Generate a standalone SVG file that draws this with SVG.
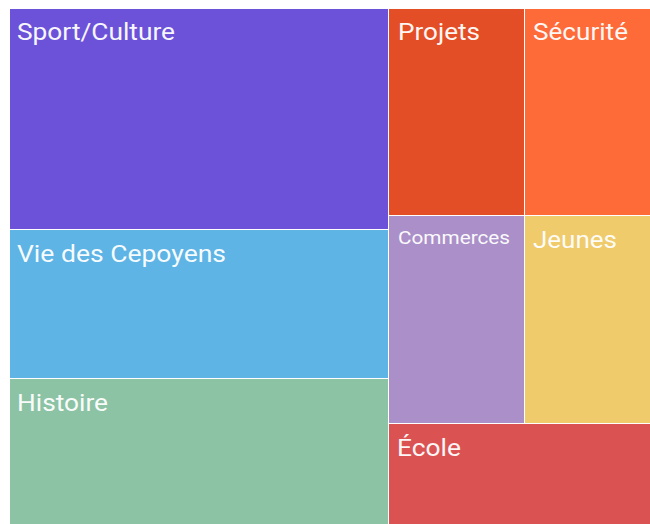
<svg xmlns="http://www.w3.org/2000/svg" width="650" height="524" viewBox="0 0 650 524">
<style>
text{font-family:Roboto,"Liberation Sans",sans-serif;fill:#ffffff;font-size:23px;opacity:0.95}
.s{font-size:18px}
</style>
<rect width="650" height="524" fill="#ffffff"/>
<g id="sport"><rect x="10" y="9" width="378" height="220" fill="#6b52d9"/><text x="17" y="40" textLength="158" lengthAdjust="spacingAndGlyphs">Sport/Culture</text></g>
<g id="vie"><rect x="10" y="230" width="378" height="148" fill="#5db4e5"/><text x="17" y="262" textLength="209" lengthAdjust="spacingAndGlyphs">Vie des Cepoyens</text></g>
<g id="histoire"><rect x="10" y="379" width="378" height="145" fill="#8cc3a5"/><text x="17" y="411" textLength="91" lengthAdjust="spacingAndGlyphs">Histoire</text></g>
<g id="projets"><rect x="389" y="9" width="135" height="206" fill="#e44e26"/><text x="398" y="40" textLength="82" lengthAdjust="spacingAndGlyphs">Projets</text></g>
<g id="securite"><rect x="525" y="9" width="125" height="206" fill="#fe6a38"/><text x="533" y="40" textLength="95" lengthAdjust="spacingAndGlyphs">Sécurité</text></g>
<g id="commerces"><rect x="389" y="216" width="135" height="207" fill="#ab8fc8"/><text class="s" x="398" y="244" textLength="112" lengthAdjust="spacingAndGlyphs">Commerces</text></g>
<g id="jeunes"><rect x="525" y="216" width="125" height="207" fill="#f0cb6b"/><text x="533" y="248" textLength="84" lengthAdjust="spacingAndGlyphs">Jeunes</text></g>
<g id="ecole"><rect x="389" y="424" width="261" height="100" fill="#db5253"/><text x="397" y="456" textLength="64" lengthAdjust="spacingAndGlyphs">École</text></g>
<g id="connectors"></g>
</svg>
